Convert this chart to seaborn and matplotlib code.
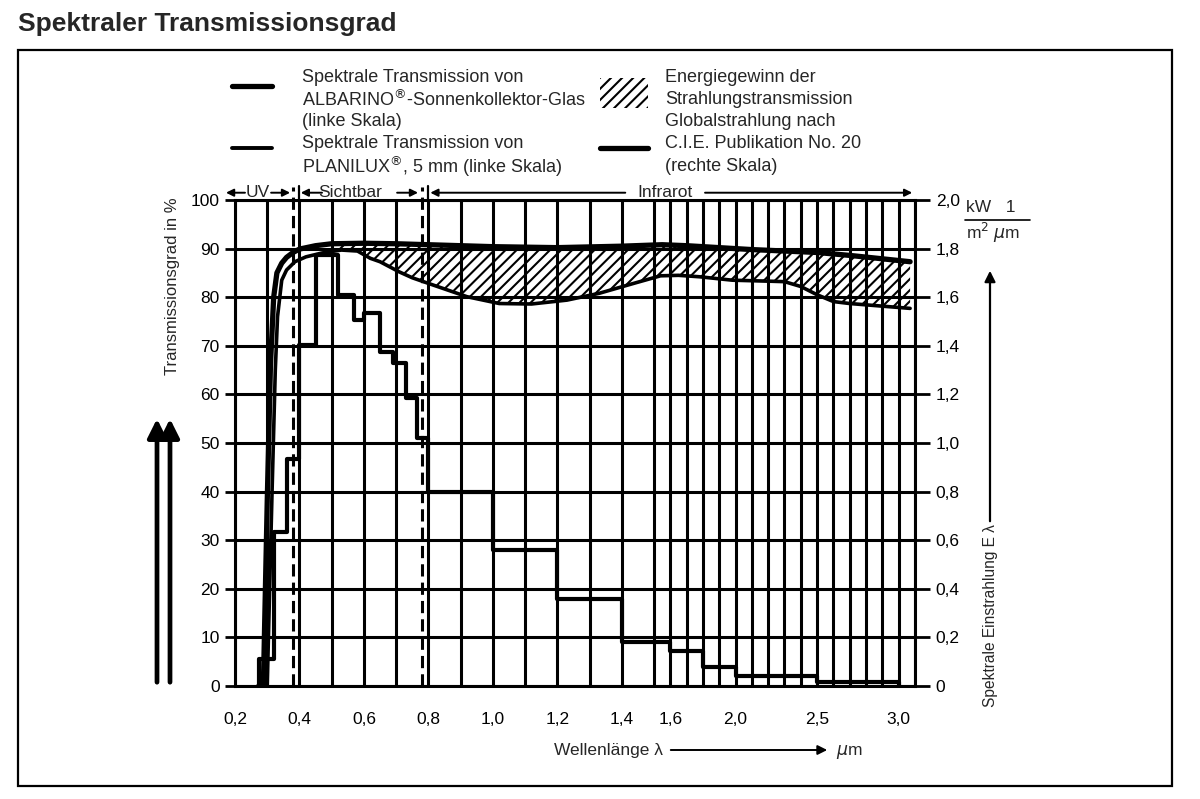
import numpy as np
import matplotlib
matplotlib.use("Agg")
import matplotlib.pyplot as plt
import seaborn as sns
from matplotlib.lines import Line2D
from matplotlib.patches import Rectangle, FancyArrowPatch

# ---------------- data ----------------
# ALBARINO solar collector glass, spectral transmission in % (left scale)
albarino_x = [0.288, 0.300, 0.310, 0.320, 0.330, 0.345, 0.360, 0.380, 0.400, 0.450, 0.500,
              0.600, 0.700, 0.800, 0.900, 1.000, 1.200, 1.400, 1.550, 1.700, 1.900, 2.100,
              2.300, 2.500, 2.700, 2.900, 3.070]
albarino_y = [0.0, 38.0, 66.0, 80.0, 85.0, 87.0, 88.2, 89.2, 89.9, 90.6, 91.0,
              91.1, 91.0, 90.8, 90.6, 90.4, 90.2, 90.5, 90.8, 90.6, 90.2, 89.8,
              89.5, 89.2, 88.6, 87.9, 87.3]
# PLANILUX 5 mm, spectral transmission in % (left scale)
planilux_x = [0.300, 0.315, 0.325, 0.332, 0.345, 0.360, 0.386, 0.420, 0.470, 0.530, 0.580,
              0.620, 0.650, 0.710, 0.750, 0.815, 0.920, 1.020, 1.120, 1.230, 1.330, 1.440,
              1.540, 1.650, 1.780, 1.980, 2.200, 2.300, 2.400, 2.500, 2.600, 2.700, 2.810, 3.070]
planilux_y = [0.0, 40.0, 65.0, 76.0, 83.5, 85.6, 87.3, 88.3, 89.1, 89.7, 89.5,
              88.0, 87.3, 85.2, 84.0, 82.5, 80.1, 78.7, 78.6, 79.4, 80.8, 82.9,
              84.4, 84.5, 84.2, 83.5, 83.3, 83.2, 82.2, 80.5, 79.1, 78.7, 78.4, 77.7]
# Global radiation after C.I.E. publication No. 20 (right scale, kW/(m^2 um)), step edges
cie_edges = [0.270, 0.275, 0.320, 0.360, 0.400, 0.450, 0.520, 0.570, 0.600, 0.650, 0.690,
             0.730, 0.765, 0.800, 1.000, 1.200, 1.400, 1.600, 1.800, 2.000, 2.500, 3.000]
cie_values = [0.0, 0.110, 0.634, 0.936, 1.404, 1.774, 1.608, 1.506, 1.534, 1.376, 1.328,
              1.184, 1.020, 0.800, 0.560, 0.356, 0.182, 0.142, 0.080, 0.042, 0.016, 0.0]

x_grid_ticks = [round(0.2 + 0.1 * i, 1) for i in range(30)]
x_label_map = {0.2: "0,2", 0.4: "0,4", 0.6: "0,6", 0.8: "0,8", 1.0: "1,0", 1.2: "1,2",
               1.4: "1,4", 1.6: "1,6", 2.0: "2,0", 2.5: "2,5", 3.0: "3,0"}
left_ticks = [0, 10, 20, 30, 40, 50, 60, 70, 80, 90, 100]
left_labels = ["0", "10", "20", "30", "40", "50", "60", "70", "80", "90", "100"]
right_ticks = [0, 0.2, 0.4, 0.6, 0.8, 1.0, 1.2, 1.4, 1.6, 1.8, 2.0]
right_labels = ["0", "0,2", "0,4", "0,6", "0,8", "1,0", "1,2", "1,4", "1,6", "1,8", "2,0"]
region_limits = [0.38, 0.78]

# ---------------- style ----------------
sns.set_theme(style="white")
FONT = ["Liberation Sans Narrow", "Liberation Sans", "DejaVu Sans"]
plt.rcParams["font.family"] = FONT
plt.rcParams["hatch.linewidth"] = 1.5
plt.rcParams["hatch.color"] = "black"

W, H = 1200, 799
fig = plt.figure(figsize=(12, 7.99), dpi=100)
fig.patch.set_facecolor("white")


def fx(px):
    return px / W


def fy(py):
    return 1 - py / H


# non-linear wavelength axis (broken scale at 1.5 um)
BREAK = 1.5
R = 163.0 / 322.0


def fwd(x):
    x = np.asarray(x, dtype=float)
    return np.where(x <= BREAK, x - 0.2, (BREAK - 0.2) + (x - BREAK) * R)


def inv(u):
    u = np.asarray(u, dtype=float)
    return np.where(u <= BREAK - 0.2, u + 0.2, BREAK + (u - (BREAK - 0.2)) / R)


ax = fig.add_axes([fx(235), fy(686), (915 - 235) / W, (686 - 200) / H])
ax.set_facecolor("white")
ax.set_xscale("function", functions=(fwd, inv))
ax.set_xlim(0.2, 3.1)
ax.set_ylim(0, 100)

GRID_LW = 2.2
TFS = 12.5
ax.set_xticks(x_grid_ticks)
ax.set_xticklabels([x_label_map.get(t, "") for t in x_grid_ticks], fontsize=TFS)
ax.set_yticks(left_ticks)
ax.set_yticklabels(left_labels, fontsize=TFS)
ax.grid(True, color="black", lw=GRID_LW)
ax.set_axisbelow(True)
for s in ax.spines.values():
    s.set_color("black")
    s.set_linewidth(GRID_LW)
ax.tick_params(axis="x", direction="out", length=10, width=2, pad=9, colors="black")
ax.tick_params(axis="y", direction="out", length=7, width=2, pad=4, colors="black")

# curves
sns.lineplot(x=albarino_x, y=albarino_y, ax=ax, color="black", lw=3.8,
             estimator=None, sort=False, zorder=4)
sns.lineplot(x=planilux_x, y=planilux_y, ax=ax, color="black", lw=2.6,
             estimator=None, sort=False, zorder=4)

# hatched energy gain between the curves
top = [(x, y) for x, y in zip(albarino_x, albarino_y) if x >= 0.5]
bot = [(x, y) for x, y in zip(planilux_x, planilux_y) if x >= 0.53]
poly_x = [p[0] for p in top] + [p[0] for p in bot[::-1]]
poly_y = [p[1] for p in top] + [p[1] for p in bot[::-1]]
ax.fill(poly_x, poly_y, facecolor="none", edgecolor="black", hatch="///", lw=0, zorder=3)

# dashed region boundaries
for xv in region_limits:
    ax.plot([xv, xv], [0, 102.6], color="black", lw=2.2, ls=(0, (4, 2)),
            clip_on=False, zorder=5)

# region annotations above the plot
ya = 101.5
arrow_kw = dict(arrowstyle="-|>", lw=1.4, color="black", mutation_scale=11,
                shrinkA=0, shrinkB=0)
for tail, head in [(0.231, 0.172), (0.312, 0.371), (0.470, 0.404), (0.703, 0.768),
                   (1.411, 0.806), (1.813, 3.083)]:
    ax.annotate("", xy=(head, ya), xytext=(tail, ya), xycoords="data",
                arrowprops=arrow_kw, annotation_clip=False)
for xv in [0.400, 0.800]:
    ax.plot([xv, xv], [100, 102.8], color="black", lw=1.6, clip_on=False)
for xt, txt in [(0.271, "UV"), (0.557, "Sichtbar"), (1.567, "Infrarot")]:
    ax.text(xt, ya, txt, ha="center", va="center", fontsize=TFS, clip_on=False)

# right axis: global radiation
ax2 = ax.twinx()
ax2.set_ylim(0, 2.0)
sns.lineplot(x=cie_edges, y=cie_values, ax=ax2, color="black", lw=3.0,
             estimator=None, sort=False, drawstyle="steps-post", zorder=5)
ax2.set_yticks(right_ticks)
ax2.set_yticklabels(right_labels, fontsize=TFS)
ax2.tick_params(axis="y", direction="out", length=11, width=2, pad=4, colors="black")
for s in ax2.spines.values():
    s.set_visible(False)
ax2.grid(False)
ax.set_xlabel("")
ax.set_ylabel("")
ax2.set_ylabel("")

# unit of right scale
fig.text(fx(966), fy(207), "kW   1", fontsize=TFS, ha="left", va="center")
fig.add_artist(Line2D([fx(965), fx(1030)], [fy(220), fy(220)], color="black", lw=1.2))
fig.text(fx(966), fy(233), "m$^2$ $\\mu$m", fontsize=TFS, ha="left", va="center")

# axis titles
fig.text(fx(172), fy(286), "Transmissionsgrad in %", rotation=90, ha="center",
         va="center", fontsize=12)
for xa in [157, 170]:
    fig.add_artist(FancyArrowPatch((fx(xa), fy(685)), (fx(xa), fy(416)),
                                   transform=fig.transFigure, arrowstyle="-|>",
                                   mutation_scale=28, lw=3.4, color="black"))
fig.text(fx(990), fy(616), "Spektrale Einstrahlung E λ", rotation=90, ha="center",
         va="center", fontsize=11.2)
fig.add_artist(FancyArrowPatch((fx(990), fy(524)), (fx(990), fy(268)),
                               transform=fig.transFigure, arrowstyle="-|>",
                               mutation_scale=16, lw=1.6, color="black"))
fig.text(fx(663), fy(750), "Wellenlänge λ", ha="right", va="center", fontsize=TFS)
fig.add_artist(FancyArrowPatch((fx(668), fy(750)), (fx(830), fy(750)),
                               transform=fig.transFigure, arrowstyle="-|>",
                               mutation_scale=14, lw=1.4, color="black"))
fig.text(fx(836), fy(752), "$\\mu$m", ha="left", va="center", fontsize=TFS)

# title and frame
fig.text(fx(18), fy(24), "Spektraler Transmissionsgrad", fontsize=19, fontweight="bold",
         ha="left", va="center", family=["Liberation Sans", "DejaVu Sans"])
fig.add_artist(Rectangle((fx(18), fy(786)), (1172 - 18) / W, (786 - 50) / H,
                         transform=fig.transFigure, fill=False, lw=1.6, color="black"))

# legend (drawn by hand to follow the original layout)
LFS = 13
fig.add_artist(Line2D([fx(232), fx(272)], [fy(86), fy(86)], color="black", lw=3.8))
for i, t in enumerate(["Spektrale Transmission von",
                       "ALBARINO$^{®}$-Sonnenkollektor-Glas", "(linke Skala)"]):
    fig.text(fx(302), fy(77 + 22.3 * i), t, ha="left", va="center", fontsize=LFS)
fig.add_artist(Line2D([fx(232), fx(272)], [fy(148), fy(148)], color="black", lw=2.8))
for i, t in enumerate(["Spektrale Transmission von", "PLANILUX$^{®}$, 5 mm (linke Skala)"]):
    fig.text(fx(302), fy(144 + 22.3 * i), t, ha="left", va="center", fontsize=LFS)
fig.add_artist(Rectangle((fx(600), fy(108)), 48 / W, 30 / H, transform=fig.transFigure,
                         facecolor="none", edgecolor="black", hatch="///", lw=0))
fig.add_artist(Line2D([fx(600), fx(648)], [fy(148), fy(148)], color="black", lw=3.8))
for i, t in enumerate(["Energiegewinn der", "Strahlungstransmission",
                       "Globalstrahlung nach", "C.I.E. Publikation No. 20",
                       "(rechte Skala)"]):
    fig.text(fx(665), fy(77 + 22.3 * i), t, ha="left", va="center", fontsize=LFS)

fig.savefig("out.png", dpi=100, facecolor="white")
